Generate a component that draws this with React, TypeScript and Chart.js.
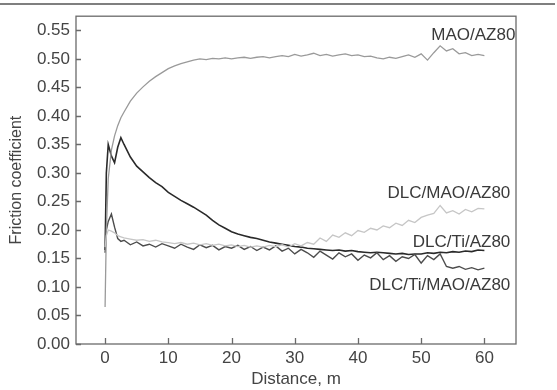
import React, { useEffect, useRef } from "react";
import { Chart, registerables } from "chart.js";

Chart.register(...registerables);

const distance = [0, 0.2, 0.5, 1, 1.5, 2, 2.5, 3, 4, 5, 6, 7, 8, 9, 10, 11, 12, 13, 14, 15, 16, 17, 18, 19, 20, 21, 22, 23, 24, 25, 26, 27, 28, 29, 30, 31, 32, 33, 34, 35, 36, 37, 38, 39, 40, 41, 42, 43, 44, 45, 46, 47, 48, 49, 50, 51, 52, 53, 54, 55, 56, 57, 58, 59, 60];

const maoAz80 = [0.065, 0.2, 0.29, 0.34, 0.365, 0.383, 0.397, 0.407, 0.426, 0.44, 0.451, 0.461, 0.469, 0.476, 0.483, 0.488, 0.492, 0.495, 0.498, 0.5, 0.499, 0.501, 0.5, 0.502, 0.5, 0.502, 0.503, 0.501, 0.503, 0.504, 0.502, 0.504, 0.506, 0.504, 0.508, 0.505, 0.507, 0.51, 0.506, 0.508, 0.505, 0.507, 0.509, 0.506, 0.507, 0.504, 0.505, 0.502, 0.5, 0.503, 0.501, 0.504, 0.507, 0.503, 0.509, 0.498, 0.511, 0.523, 0.514, 0.518, 0.509, 0.511, 0.506, 0.508, 0.506];

const dlcTiAz80 = [0.165, 0.3, 0.35, 0.33, 0.318, 0.345, 0.362, 0.35, 0.328, 0.312, 0.302, 0.292, 0.283, 0.276, 0.266, 0.259, 0.252, 0.246, 0.24, 0.233, 0.226, 0.217, 0.209, 0.203, 0.197, 0.193, 0.19, 0.187, 0.185, 0.182, 0.179, 0.177, 0.175, 0.173, 0.171, 0.17, 0.168, 0.167, 0.166, 0.165, 0.164, 0.165, 0.163, 0.164, 0.162, 0.161, 0.16, 0.161, 0.16, 0.159, 0.158, 0.159, 0.157, 0.158, 0.158, 0.16, 0.159, 0.161, 0.16, 0.162, 0.161, 0.163, 0.162, 0.165, 0.164];

const dlcTiMaoAz80 = [0.16, 0.2, 0.215, 0.228, 0.205, 0.185, 0.18, 0.182, 0.174, 0.179, 0.172, 0.175, 0.17, 0.176, 0.172, 0.168, 0.175, 0.17, 0.166, 0.174, 0.169, 0.173, 0.165, 0.171, 0.168, 0.173, 0.166, 0.171, 0.164, 0.17, 0.165, 0.172, 0.163, 0.168, 0.158, 0.166, 0.16, 0.152, 0.163, 0.156, 0.149, 0.16, 0.153, 0.158, 0.147, 0.156, 0.151, 0.16, 0.148, 0.155, 0.145, 0.153, 0.15, 0.157, 0.142, 0.155, 0.148, 0.158, 0.136, 0.133, 0.136, 0.131, 0.134, 0.13, 0.133];

const dlcMaoAz80 = [0.17, 0.19, 0.2, 0.198, 0.195, 0.19, 0.188, 0.186, 0.184, 0.182, 0.183, 0.18, 0.182, 0.179, 0.178, 0.176, 0.178, 0.175, 0.177, 0.174, 0.176, 0.173, 0.175, 0.172, 0.174, 0.171, 0.173, 0.17, 0.172, 0.17, 0.173, 0.171, 0.174, 0.17, 0.176, 0.172, 0.178, 0.175, 0.186, 0.18, 0.191, 0.187, 0.195, 0.19, 0.199, 0.196, 0.203, 0.2, 0.207, 0.204, 0.212, 0.208, 0.217, 0.213, 0.222, 0.226, 0.229, 0.243, 0.23, 0.234, 0.228, 0.236, 0.232, 0.238, 0.237];

const xTicks = [0, 10, 20, 30, 40, 50, 60];
const yTicks = [0, 0.05, 0.1, 0.15, 0.2, 0.25, 0.3, 0.35, 0.4, 0.45, 0.5, 0.55];

const seriesLabels = ["MAO/AZ80", "DLC/MAO/AZ80", "DLC/Ti/AZ80", "DLC/Ti/MAO/AZ80"];
const labelX = [64.9, 64.1, 64.1, 64.1];
const labelY = [0.542, 0.265, 0.179, 0.103];

const FONT = "'Liberation Sans', Arial, sans-serif";
const TEXT = "#444";
const AXIS = "#6a6a6a";

const framePlugin = {
  id: "frame",
  beforeDraw(chart: any) {
    const { ctx } = chart;
    ctx.save();
    ctx.strokeStyle = "#555";
    ctx.lineWidth = 1.5;
    ctx.beginPath();
    ctx.moveTo(0, 4);
    ctx.lineTo(555, 4);
    ctx.stroke();
    ctx.restore();
  },
  afterDraw(chart: any) {
    const { ctx, chartArea } = chart;
    const xs = chart.scales.x;
    const ys = chart.scales.y;
    ctx.save();
    ctx.strokeStyle = AXIS;
    ctx.lineWidth = 1.3;
    ctx.strokeRect(chartArea.left, chartArea.top, chartArea.right - chartArea.left, chartArea.bottom - chartArea.top);
    ctx.beginPath();
    xTicks.forEach((v) => {
      const px = Math.round(xs.getPixelForValue(v)) + 0.5;
      ctx.moveTo(px, chartArea.bottom);
      ctx.lineTo(px, chartArea.bottom - 6);
    });
    yTicks.forEach((v) => {
      const py = Math.round(ys.getPixelForValue(v)) + 0.5;
      ctx.moveTo(chartArea.left, py);
      ctx.lineTo(chartArea.left + 5, py);
    });
    ctx.stroke();
    ctx.fillStyle = "#3a3a3a";
    ctx.font = `17px ${FONT}`;
    ctx.textAlign = "right";
    ctx.textBaseline = "middle";
    seriesLabels.forEach((t, i) => {
      ctx.fillText(t, xs.getPixelForValue(labelX[i]), ys.getPixelForValue(labelY[i]));
    });
    ctx.restore();
  },
};

export default function App() {
  const ref = useRef<HTMLCanvasElement>(null);
  useEffect(() => {
    document.body.style.margin = "0";
    const mk = (d: number[]) => distance.map((x, i) => ({ x, y: d[i] }));
    const chart = new Chart(ref.current as HTMLCanvasElement, {
      type: "line",
      data: {
        datasets: [
          { label: "DLC/MAO/AZ80", data: mk(dlcMaoAz80), borderColor: "#c6c6c6", borderWidth: 1.3 },
          { label: "MAO/AZ80", data: mk(maoAz80), borderColor: "#9a9a9a", borderWidth: 1.3 },
          { label: "DLC/Ti/MAO/AZ80", data: mk(dlcTiMaoAz80), borderColor: "#4c4c4c", borderWidth: 1.4 },
          { label: "DLC/Ti/AZ80", data: mk(dlcTiAz80), borderColor: "#2a2a2a", borderWidth: 1.6 },
        ],
      },
      options: {
        animation: false,
        responsive: false,
        devicePixelRatio: 1,
        parsing: false as any,
        elements: { point: { radius: 0 }, line: { tension: 0 } },
        layout: { padding: { left: 0, right: 41, top: 14, bottom: 0 } },
        plugins: { legend: { display: false }, tooltip: { enabled: false } },
        scales: {
          x: {
            type: "linear",
            min: -4.6,
            max: 65,
            grid: { display: false, drawTicks: false },
            border: { display: false },
            afterBuildTicks: (s: any) => {
              s.ticks = xTicks.map((v) => ({ value: v }));
            },
            afterFit: (s: any) => {
              s.height = 46;
            },
            ticks: { color: TEXT, font: { family: FONT, size: 17 }, padding: 4, maxRotation: 0 },
            title: { display: true, text: "Distance, m", color: TEXT, font: { family: FONT, size: 17 }, padding: { top: 0, bottom: 0 } },
          },
          y: {
            type: "linear",
            min: 0,
            max: 0.575,
            grid: { display: false, drawTicks: false },
            border: { display: false },
            afterBuildTicks: (s: any) => {
              s.ticks = yTicks.map((v) => ({ value: v }));
            },
            afterFit: (s: any) => {
              s.width = 76;
            },
            ticks: {
              color: TEXT,
              font: { family: FONT, size: 17 },
              padding: 6,
              callback: (v: any) => Number(v).toFixed(2),
            },
            title: { display: true, text: "Friction coefficient", color: TEXT, font: { family: FONT, size: 16 }, padding: { top: 7, bottom: 0 } },
          },
        },
      },
      plugins: [framePlugin],
    });
    return () => chart.destroy();
  }, []);
  return (
    <div style={{ position: "absolute", left: 0, top: 0, width: 557, height: 390, background: "#fff" }}>
      <canvas ref={ref} width={557} height={390} />
    </div>
  );
}
